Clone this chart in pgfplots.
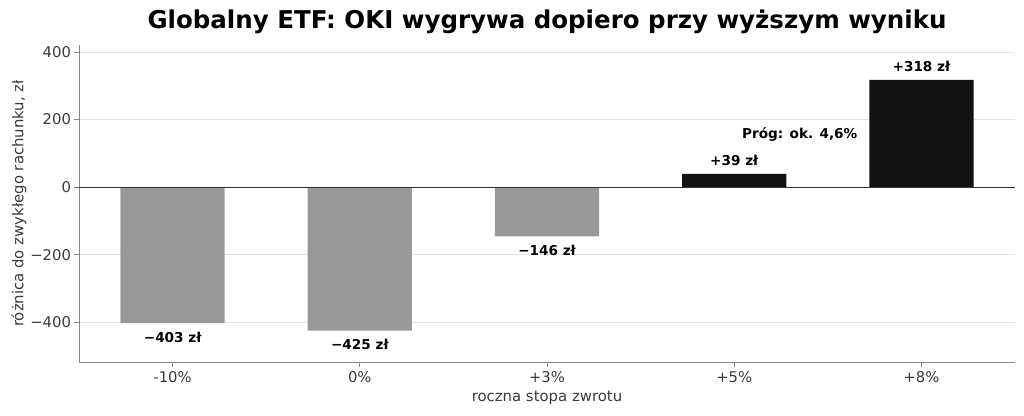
\documentclass[border=0pt]{standalone}
\usepackage{fontspec}
\setmainfont{DejaVu Sans}
\usepackage{pgfplots}
\pgfplotsset{compat=1.18}
\definecolor{neg}{HTML}{999999}
\definecolor{pos}{HTML}{111111}
\definecolor{txt}{HTML}{3A3A3A}
\definecolor{spine}{HTML}{888888}
\definecolor{gridc}{HTML}{E3E3E3}
\begin{document}
\begin{tikzpicture}
\begin{axis}[
  at={(0,0)}, anchor=south west,
  scale only axis,
  width=936bp, height=317bp,
  xmin=-0.5, xmax=4.5,
  ymin=-518, ymax=421,
  axis x line*=bottom, axis y line*=left,
  axis line style={spine, line width=0.8bp},
  xtick={0,1,2,3,4},
  xticklabels={-10\%,0\%,+3\%,+5\%,+8\%},
  ytick={-400,-200,0,200,400},
  yticklabels={−400,−200,0,200,400},
  tick style={spine, line width=0.8bp},
  tick align=outside,
  major tick length=4.5bp,
  xmajorgrids=false, ymajorgrids=true,
  major grid style={draw=gridc, line width=0.8bp},
  ticklabel style={font=\fontsize{14.8bp}{17bp}\selectfont, text=txt},
  xticklabel style={yshift=-1bp},
  xlabel={roczna stopa zwrotu},
  ylabel={różnica do zwykłego rachunku, zł},
  label style={font=\fontsize{14.9bp}{17bp}\selectfont, text=txt},
  xlabel style={yshift=-2bp},
  ylabel style={yshift=-3bp},
  title={Globalny ETF: OKI wygrywa dopiero przy wyższym wyniku},
  title style={font=\fontsize{24.5bp}{28bp}\selectfont\bfseries, yshift=2bp},
  ybar, bar width=0.557,
  nodes near coords,
  point meta=explicit symbolic,
  every node near coord/.append style={font=\fontsize{13.6bp}{16bp}\selectfont\bfseries, text=black, inner sep=4bp},
  clip=false,
]
\addplot[fill=neg, draw=none, bar shift=0pt, every node near coord/.append style={anchor=north, yshift=-4.5bp}] coordinates {(0,-403) [{−403 zł}] (1,-425) [{−425 zł}] (2,-146) [{−146 zł}]};
\addplot[fill=pos, draw=none, bar shift=0pt, every node near coord/.append style={anchor=south, yshift=4bp}] coordinates {(3,39) [{+39 zł}] (4,318) [{+318 zł}]};
\draw[color=black!80, line width=1.1bp] (axis cs:-0.5,0) -- (axis cs:4.5,0);
\node[font=\fontsize{13.6bp}{16bp}\selectfont\bfseries, text=black] at (axis cs:3.35,157) {Próg: ok. 4,6\%};
\end{axis}
\path[use as bounding box] (-79bp,-54bp) rectangle (945bp,362bp);
\end{tikzpicture}
\end{document}
